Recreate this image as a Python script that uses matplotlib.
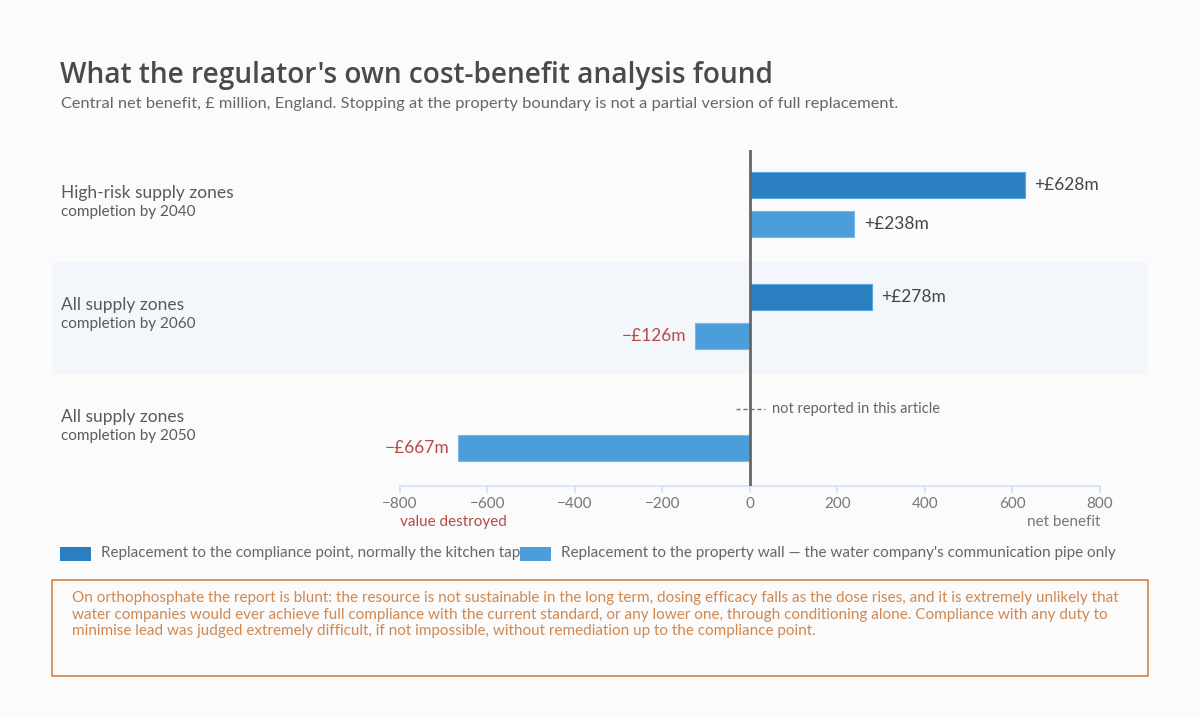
import numpy as np
import matplotlib.pyplot as plt
from matplotlib.patches import Rectangle

# data
groups = ["High-risk supply zones", "All supply zones", "All supply zones"]
subs = ["completion by 2040", "completion by 2060", "completion by 2050"]
full_tap = [628, 278, np.nan]      # compliance point (kitchen tap)
wall_only = [238, -126, -667]      # property wall only
series_names = ["Replacement to the compliance point, normally the kitchen tap",
                "Replacement to the property wall \u2014 the water company's communication pipe only"]
ticks = [-800, -600, -400, -200, 0, 200, 400, 600, 800]
note_lines = [
    "On orthophosphate the report is blunt: the resource is not sustainable in the long term, "
    "dosing efficacy falls as the dose rises, and it is extremely unlikely that",
    "water companies would ever achieve full compliance with the current standard, or any lower one, "
    "through conditioning alone. Compliance with any duty to",
    "minimise lead was judged extremely difficult, if not impossible, without remediation up to the "
    "compliance point.",
]

W, H = 1200, 717
DARK = "#2a7fc0"
LIGHT = "#4c9edb"
RED = "#b84a48"
GREY = "#5a5a5a"
BG = "#fbfbfc"
ORANGE = "#d4834a"

plt.rcParams['font.family'] = ['Lato', 'DejaVu Sans']

fig = plt.figure(figsize=(W / 100, H / 100), dpi=100, facecolor=BG)


def fx(p):
    return p / W


def fy(p):
    return 1 - p / H


# banded background for middle row
fig.patches.append(Rectangle((fx(52), fy(374)), fx(1148) - fx(52), (374 - 262) / H,
                             transform=fig.transFigure, facecolor="#f3f7fc",
                             edgecolor="none", zorder=0))

ax = fig.add_axes([fx(400), fy(486), fx(1100) - fx(400), (486 - 150) / H])
ax.set_zorder(2)
ax.set_facecolor("none")
ax.set_xlim(-800, 800)
ax.set_ylim(2.5, -0.5)

y = np.arange(len(groups))
off1, off2, bh = -0.19, 0.165, 0.232

ax.barh(y + off1, full_tap, height=bh, color=DARK, edgecolor="#5aa6dd", linewidth=0.8, zorder=3)
ax.barh(y + off2, wall_only, height=bh, color=LIGHT, edgecolor="#7ab8e6", linewidth=0.8, zorder=3)

for i in range(len(groups)):
    for v, yy in ((full_tap[i], y[i] + off1), (wall_only[i], y[i] + off2)):
        if np.isnan(v):
            continue
        if v >= 0:
            ax.text(v + 22, yy, "+\u00a3%dm" % v, va="center", ha="left",
                    fontsize=12.5, color="#444444")
        else:
            ax.text(v - 20, yy, "\u2212\u00a3%dm" % abs(v), va="center", ha="right",
                    fontsize=12.5, color=RED)

# not reported marker
ax.plot([-33, 35], [2 + off1, 2 + off1], ls=(0, (3, 2)), color="#777777", lw=1, zorder=4)
ax.text(50, 2 + off1, "not reported in this article", va="center", ha="left",
        fontsize=10.5, color="#666666")

ax.axvline(0, color="#666666", lw=2, zorder=5)

for s in ["top", "right", "left"]:
    ax.spines[s].set_visible(False)
ax.spines["bottom"].set_color("#cfe2f3")
ax.spines["bottom"].set_linewidth(1.2)
ax.set_yticks([])
ax.set_xticks(ticks)
ax.set_xticklabels([("\u2212%d" % abs(t)) if t < 0 else str(t) for t in ticks])
ax.tick_params(axis="x", colors="#cfe2f3", labelcolor="#777777", labelsize=11, length=5, width=1.2, pad=3)

fig.text(fx(400), fy(522), "value destroyed", fontsize=11, color=RED, ha="left", va="center")
fig.text(fx(1100), fy(522), "net benefit", fontsize=11, color="#777777", ha="right", va="center")

# row labels
for i, (g, s) in enumerate(zip(groups, subs)):
    cy = 206 + 112 * i
    fig.text(fx(61), fy(cy - 13), g, fontsize=12.5, color=GREY, ha="left", va="center")
    fig.text(fx(61), fy(cy + 6), s, fontsize=11, color=GREY, ha="left", va="center")

# title
fig.text(fx(60), fy(75), "What the regulator's own cost-benefit analysis found",
         fontsize=20.2, color="#4a4a4a", ha="left", va="center",
         family=["Open Sans", "DejaVu Sans"], fontweight="semibold")
fig.text(fx(61), fy(104), "Central net benefit, \u00a3 million, England. Stopping at the property boundary "
         "is not a partial version of full replacement.",
         fontsize=11.8, color="#666666", ha="left", va="center")

# legend
for x0, col, name in ((60, DARK, series_names[0]), (520, LIGHT, series_names[1])):
    fig.patches.append(Rectangle((fx(x0), fy(561)), 31 / W, 14 / H, transform=fig.transFigure,
                                 facecolor=col, edgecolor="none", zorder=2))
    fig.text(fx(x0 + 41), fy(553), name, fontsize=11, color="#666666", ha="left", va="center")

# note box
fig.patches.append(Rectangle((fx(52), fy(676)), fx(1148) - fx(52), (676 - 580) / H,
                             transform=fig.transFigure, facecolor="none",
                             edgecolor=ORANGE, lw=1.2, zorder=2))
for k, line in enumerate(note_lines):
    fig.text(fx(72), fy(598 + 16.5 * k), line, fontsize=11, color="#d08850", ha="left", va="center")

fig.savefig("out.png", dpi=100, facecolor=BG)
